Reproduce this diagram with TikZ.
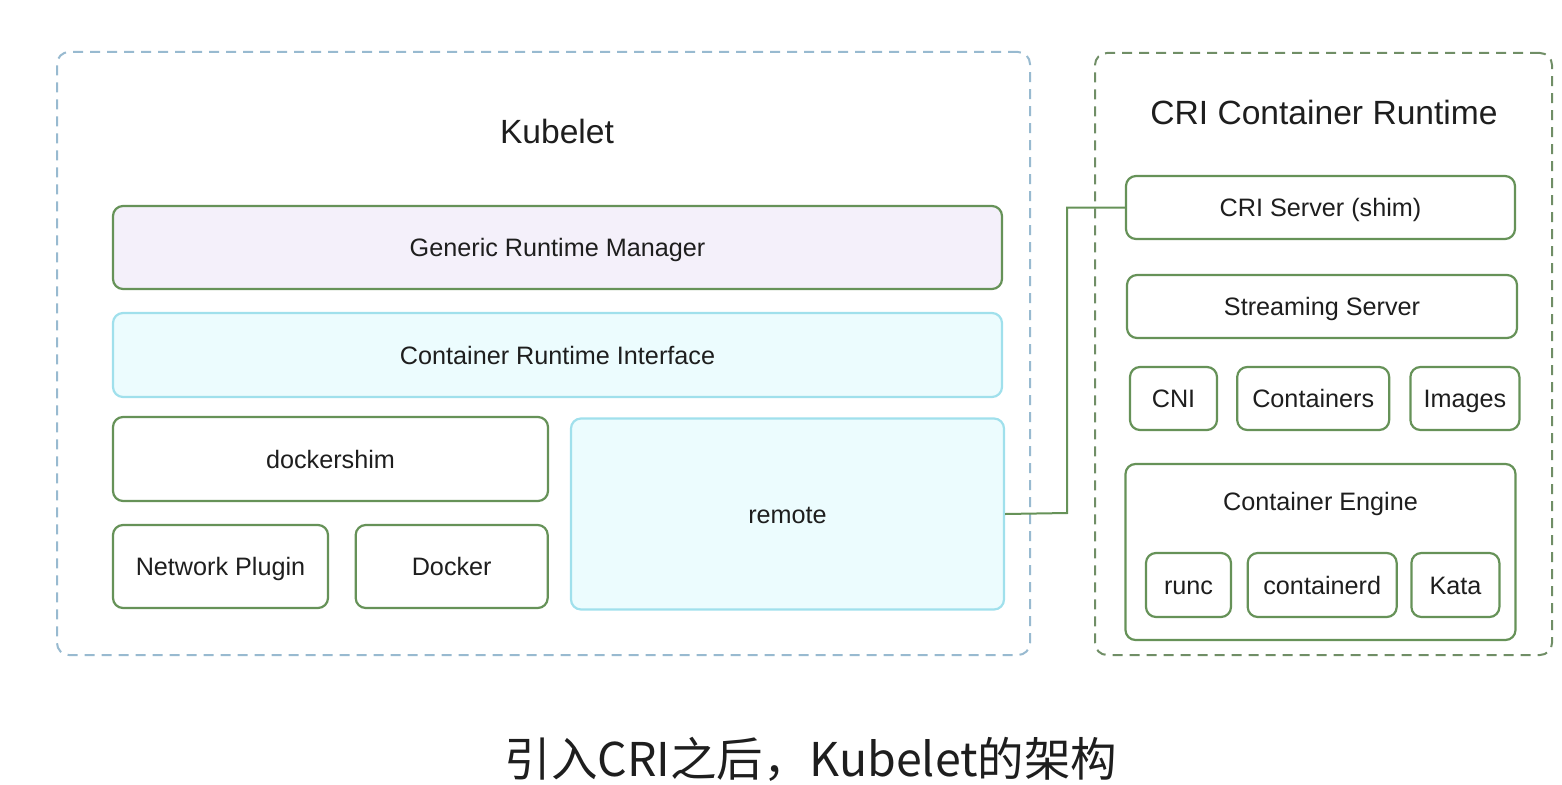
\documentclass[tikz,border=0pt]{standalone}
\usepackage{fontspec}
\setmainfont{Liberation Sans}
\newfontfamily\cjkfont{Noto Sans CJK SC}
\usepackage{tikz}
\usetikzlibrary{
        positioning
    }
\definecolor{boxline}{RGB}{102,146,88}
\definecolor{cyanline}{RGB}{160,224,236}
\definecolor{cyanfill}{RGB}{236,252,254}
\definecolor{purplefill}{RGB}{244,240,250}
\definecolor{kubeline}{RGB}{152,186,208}
\definecolor{criline}{RGB}{112,142,102}
\definecolor{textcol}{RGB}{30,30,30}
\tikzset{auto,node distance=20pt}

\begin{document}
\begin{tikzpicture}[x=1pt,y=-1pt]
                \tikzstyle{every node}=[text=textcol,font=\fontsize{25.2}{30}\selectfont,text height=18pt,text depth=0pt]
                \tikzstyle{layer}=[draw=boxline,line width=2.2pt,rounded corners=10pt,fill=white,inner sep=0pt]
                \tikzstyle{cyanlayer}=[layer,draw=cyanline,fill=cyanfill]
                \tikzstyle{group}=[line width=2pt,dash pattern=on 10pt off 7pt,rounded corners=12pt,inner sep=0pt]
                \tikzstyle{title}=[font=\fontsize{33.6}{40}\selectfont,text height=24pt]
                \useasboundingbox (0,0) rectangle (1562,784);
                % outer groups
                \node[group,draw=kubeline,minimum width=973pt,minimum height=603pt] (kubelet) at (543.5,353.5) {};
                \node[group,draw=criline,minimum width=457pt,minimum height=602pt] (crirt) at (1323.5,354) {};
                \node[title] (kubetitle) at (557,131) {Kubelet};
                \node[title] (crititle) at (1324,112) {CRI Container Runtime};
                % kubelet side
                \node[layer,fill=purplefill,minimum width=889pt,minimum height=83pt] (grm) at (557.5,247.5) {Generic Runtime Manager};
                \node[cyanlayer,minimum width=889pt,minimum height=84pt] (cri) at (557.5,355) {Container Runtime Interface};
                \node[layer,minimum width=435pt,minimum height=84pt] (dshim) at (330.5,459) {dockershim};
                \node[layer,minimum width=215pt,minimum height=83pt] (netplug) at (220.5,566.5) {Network Plugin};
                \node[layer,minimum width=192pt,minimum height=83pt] (docker) [right=25.5pt of netplug] {Docker};
                \node[cyanlayer,minimum width=433pt,minimum height=191pt] (remote) at (787.5,514) {remote};
                % runtime side
                \node[layer,minimum width=389pt,minimum height=63pt] (crisrv) at (1320.5,207.5) {CRI Server (shim)};
                \node[layer,minimum width=390pt,minimum height=63pt] (stream) at (1322,306.5) {Streaming Server};
                \node[layer,minimum width=87pt,minimum height=63pt] (cni) at (1173.5,398.5) {CNI};
                \node[layer,minimum width=152pt,minimum height=63pt] (ctrs) [right=18pt of cni] {Containers};
                \node[layer,minimum width=109pt,minimum height=63pt] (imgs) [right=19pt of ctrs] {Images};
                \node[layer,minimum width=390pt,minimum height=176pt] (engine) at (1320.5,552) {};
                \node (enginetitle) at (1320.5,501) {Container Engine};
                \node[layer,minimum width=85pt,minimum height=64pt] (runc) at (1188.5,585) {runc};
                \node[layer,minimum width=149pt,minimum height=64pt] (ctrd) [right=14.5pt of runc] {containerd};
                \node[layer,minimum width=88pt,minimum height=64pt] (kata) [right=12.5pt of ctrd] {Kata};
                % link
                \draw[boxline,line width=2pt] (remote.east) -- ++(62,-1) |- (crisrv.west);
                % caption
                \node[font=\cjkfont\fontsize{46.5}{52}\selectfont,text height=35pt] (caption) at (811,759) {引入CRI之后，Kubelet的架构};
            \end{tikzpicture}
\end{document}
